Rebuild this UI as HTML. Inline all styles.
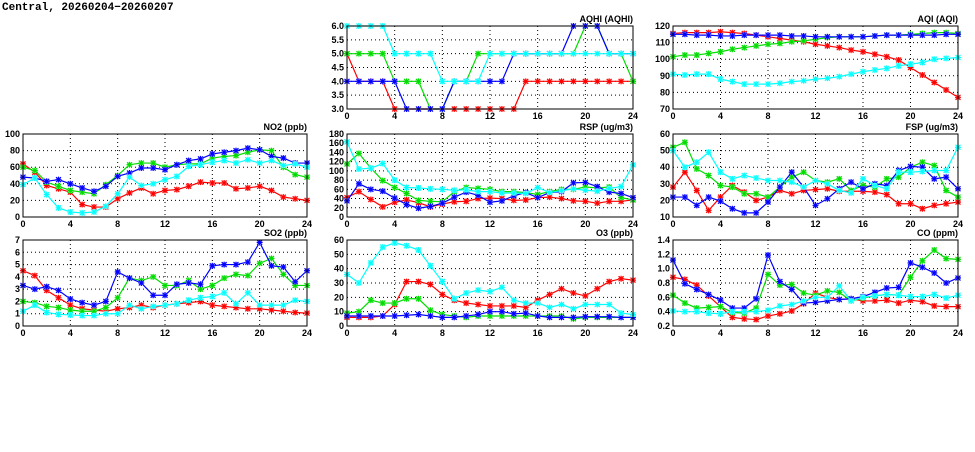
<!DOCTYPE html>
<html><head><meta charset="utf-8"><style>
body{margin:0;background:#fff;}
svg text{font-family:"Liberation Sans",sans-serif;font-weight:bold;font-size:9px;fill:#000;}
</style></head><body>
<svg id="s" width="975" height="447" xmlns="http://www.w3.org/2000/svg">
<text x="2" y="10" style="font-family:'Liberation Mono',monospace;font-size:11px;">Central, 20260204−20260207</text>
</svg>
<script>
const S=document.getElementById('s');
const C=['#ff0000','#00dd00','#0000ff','#00ffff'];
const L=['#ffb0b0','#b0f0b0','#b0b0ff','#c0ffff'];
function el(t,a,txt){const e=document.createElementNS('http://www.w3.org/2000/svg',t);for(const k in a)e.setAttribute(k,a[k]);if(txt!==undefined)e.textContent=txt;S.appendChild(e);return e;}
function panel(x0,x1,y0,y1,ymin,ymax,step,dec,title,data){
  const X=i=>x0+(x1-x0)*i/24, Y=v=>y1-(y1-y0)*(v-ymin)/(ymax-ymin);
  for(let v=ymin;v<=ymax+1e-9;v+=step){const y=Y(v);
    if(v>ymin+1e-9&&v<ymax-1e-9)el('line',{x1:x0,x2:x1,y1:y,y2:y,stroke:'#000','stroke-width':1,'stroke-dasharray':'1,3'});
    el('text',{x:x0-3,y:y+3,'text-anchor':'end'},v.toFixed(dec));}
  for(let i=0;i<=24;i+=4){const x=X(i);
    if(i>0&&i<24)el('line',{x1:x,x2:x,y1:y0,y2:y1,stroke:'#000','stroke-width':1,'stroke-dasharray':'1,3'});
    el('text',{x:x,y:y1+10,'text-anchor':'middle'},i);}
  el('text',{x:x1,y:y0-4,'text-anchor':'end'},title);
  data.forEach((d,k)=>{
    el('polyline',{points:d.map((v,i)=>X(i)+','+Y(v)).join(' '),fill:'none',stroke:C[k],'stroke-width':1.2});
    d.forEach((v,i)=>{const x=X(i),y=Y(v);
      el('rect',{x:x-2.5,y:y-2.5,width:5,height:5,fill:L[k]});
      el('path',{d:`M${x-2.5},${y-2.5}L${x+2.5},${y+2.5}M${x-2.5},${y+2.5}L${x+2.5},${y-2.5}M${x},${y-3}V${y+3}M${x-3},${y}H${x+3}`,stroke:C[k],'stroke-width':1.1});});
  });
  el('rect',{x:x0,y:y0,width:x1-x0,height:y1-y0,fill:'none',stroke:'#000','stroke-width':1});
}
const cx=[[23,307],[347,633],[673,958]], ry=[[26,109],[134,217],[240,326]];
panel(cx[1][0],cx[1][1],ry[0][0],ry[0][1],3,6,0.5,1,'AQHI (AQHI)',[
[5,4,4,4,3,3,3,3,3,3,3,3,3,3,3,4,4,4,4,4,4,4,4,4,4],
[5,5,5,5,4,4,4,3,3,4,4,5,5,5,5,5,5,5,5,5,6,6,5,5,4],
[4,4,4,4,4,3,3,3,3,4,4,4,4,4,5,5,5,5,5,6,6,6,5,5,5],
[6,6,6,6,5,5,5,5,4,4,4,4,5,5,5,5,5,5,5,5,5,5,5,5,5]]);
panel(cx[2][0],cx[2][1],ry[0][0],ry[0][1],70,120,10,0,'AQI (AQI)',[
[115.5,116,116,116,116.5,116,115.5,114.5,113.5,112.5,111.5,110.5,109,108,107,105.5,104.5,103,101.5,99.5,95,90.5,86,81.5,77],
[101.5,102.5,102.5,103.5,104.5,106,107,108,109,109.5,110.5,111,112,113,113.5,113.5,113.5,114,114.5,114.5,115,115.5,116,116,115.5],
[115,115,114.5,114.5,114,114,114.5,114.5,114.5,114.5,114,114,113.5,113.5,113.5,113.5,113.5,114,114.5,114.5,114.5,114.5,114.5,115,115],
[91,90.5,91,91,88,86.5,85,85,85,85.5,86.5,87,88,88.5,89.5,91,92.5,93.5,94.5,96,97,98,100,100.5,101]]);
panel(cx[0][0],cx[0][1],ry[1][0],ry[1][1],0,100,20,0,'NO2 (ppb)',[
[64,54,38,34,30,15,12,12,22,29,35,28,32,33,37,42,41,41,34,35,37,32,24,22,20],
[60,56,42,37,32,30,28,39,50,63,65,65,60,63,64,64,71,73,74,78,81,80,60,51,48],
[48,47,43,45,40,35,31,37,49,53,59,59,57,63,68,70,76,78,80,83,81,73,71,65,65],
[39,47,27,11,6,5,6,13,28,48,38,40,45,49,61,63,66,68,65,69,65,68,62,64,60]]);
panel(cx[1][0],cx[1][1],ry[1][0],ry[1][1],0,180,20,0,'RSP (ug/m3)',[
[42,55,38,22,32,37,31,22,28,33,34,40,41,40,36,37,42,43,40,35,34,30,34,34,37],
[115,138,106,79,64,51,36,34,33,55,64,62,60,55,55,53,49,55,60,60,65,63,65,42,37],
[35,72,60,56,41,27,19,23,30,43,54,47,32,35,46,53,42,53,55,74,75,66,54,51,42],
[163,104,106,116,80,64,63,61,60,58,59,55,55,52,52,51,64,53,57,61,58,56,62,66,113]]);
panel(cx[2][0],cx[2][1],ry[1][0],ry[1][1],10,60,10,0,'FSP (ug/m3)',[
[28,37,26,14,22,29,25,20,22,26,24,26,26.5,27,25.5,25.5,25.5,25,23.5,18,18,15,17,18,19],
[52,55,39,35,29,28,24,24,22,28,34,37,32,31,33,26,29,28,33,34,40,43,41,26,22],
[22,22,17,22,19.5,15,12.5,12.5,19,28,37,28,17,21,27,31,27,30,29,38,40.5,40,33,34,27],
[50,40,43,49,37,33,35,33.5,32,32,31,28,32,30,26,24.5,33,29,27,37,37,37.5,38,38,52]]);
panel(cx[0][0],cx[0][1],ry[2][0],ry[2][1],0,7,1,0,'SO2 (ppb)',[
[4.5,4.1,2.9,2.3,1.7,1.4,1.3,1.2,1.4,1.5,1.7,1.5,1.7,1.8,1.9,2.0,1.7,1.6,1.5,1.4,1.4,1.3,1.2,1.1,1.05],
[2.0,1.9,1.6,1.5,1.3,1.2,1.2,1.5,2.3,3.9,3.7,4.0,3.3,3.3,3.7,3.0,3.3,3.9,4.2,4.1,5.1,5.5,4.2,3.3,3.3],
[3.3,3.0,3.2,2.9,2.2,1.9,1.7,2.0,4.4,3.9,3.5,2.5,2.5,3.4,3.5,3.4,4.9,5.0,5.0,5.2,6.8,4.9,4.8,3.6,4.5],
[1.2,1.7,1.1,0.95,0.9,0.85,0.85,1.0,1.0,1.7,1.4,1.6,1.7,1.8,2.1,2.3,2.4,2.7,1.8,2.7,1.7,1.7,1.7,2.1,2.0]]);
panel(cx[1][0],cx[1][1],ry[2][0],ry[2][1],0,60,10,0,'O3 (ppb)',[
[6,6,6,7,15,31,31,29,22,18,16,15,14,14,14,13,18,22,26,23,21,26,31,33,32],
[9,10,18,16,16,19,19,11,8,7,6,7,7,7,7,7,7,7,7,5,6,6,6,6,6],
[7,7,7,7,7,7.5,8,7,6,6,7,8,10,10,8.5,9,7,6,6,6,6.5,6.5,6.5,6,6],
[36,30,44,55,58,56,53,42,31,19,23,25,24,27,18,16,16,13,15,12,15,15,15,9,8]]);
panel(cx[2][0],cx[2][1],ry[2][0],ry[2][1],0.2,1.4,0.2,1,'CO (ppm)',[
[0.88,0.85,0.77,0.62,0.47,0.32,0.30,0.29,0.34,0.37,0.41,0.51,0.66,0.60,0.57,0.58,0.55,0.55,0.56,0.52,0.56,0.54,0.48,0.47,0.47],
[0.63,0.52,0.45,0.46,0.47,0.39,0.38,0.45,0.92,0.77,0.78,0.66,0.63,0.69,0.67,0.55,0.59,0.62,0.64,0.63,0.88,1.11,1.26,1.14,1.13],
[1.12,0.79,0.71,0.64,0.56,0.45,0.45,0.58,1.19,0.82,0.71,0.52,0.53,0.55,0.57,0.58,0.61,0.67,0.73,0.74,1.08,1.02,0.94,0.80,0.87],
[0.41,0.40,0.40,0.38,0.37,0.40,0.40,0.40,0.42,0.48,0.50,0.55,0.60,0.60,0.76,0.55,0.60,0.62,0.64,0.63,0.61,0.61,0.64,0.59,0.63]]);
</script>
</body></html>
